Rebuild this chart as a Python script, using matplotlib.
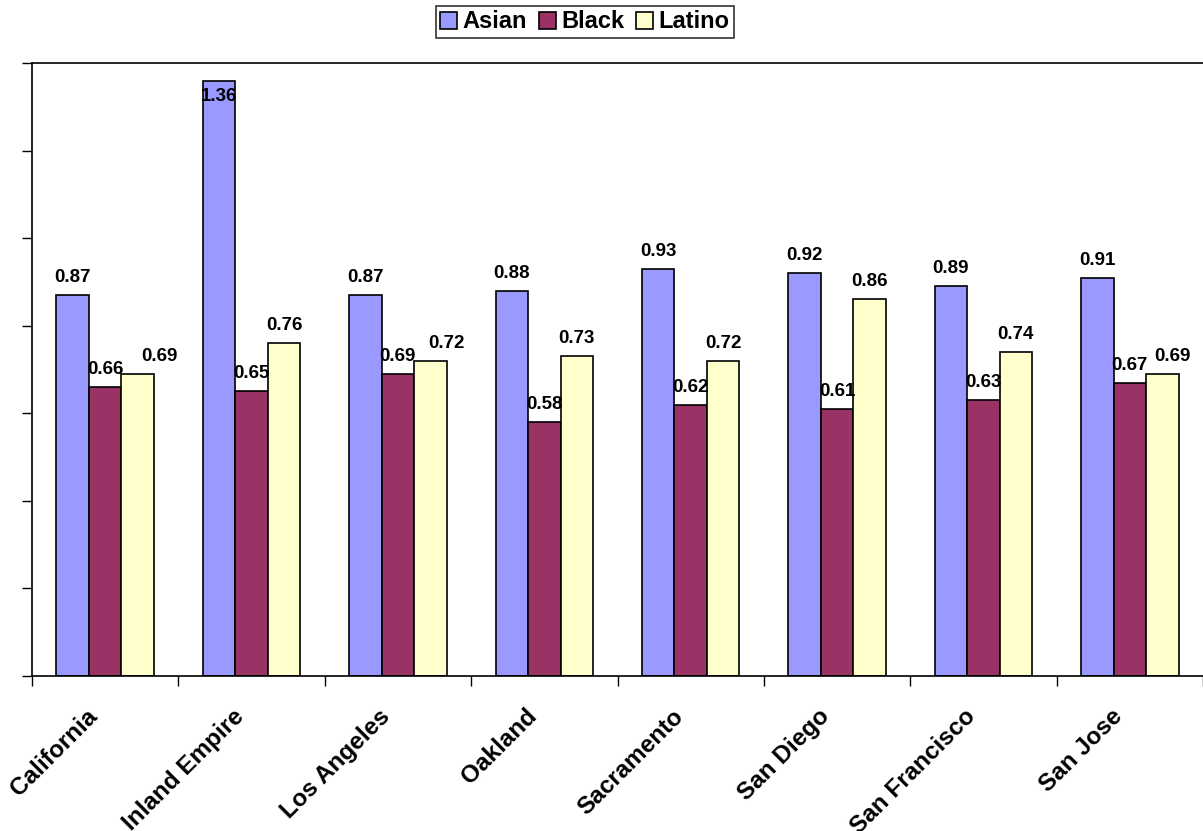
import numpy as np
import matplotlib.pyplot as plt
from matplotlib.patches import Patch

# Data
regions = ["California", "Inland Empire", "Los Angeles", "Oakland",
           "Sacramento", "San Diego", "San Francisco", "San Jose"]
asian = [0.87, 1.36, 0.87, 0.88, 0.93, 0.92, 0.89, 0.91]
black = [0.66, 0.65, 0.69, 0.58, 0.62, 0.61, 0.63, 0.67]
latino = [0.69, 0.76, 0.72, 0.73, 0.72, 0.86, 0.74, 0.69]

# Style
plt.rcParams["font.family"] = ["Liberation Sans", "DejaVu Sans"]
plt.rcParams["font.weight"] = "bold"

series = [("Asian", asian, "#9999FF"),
          ("Black", black, "#993366"),
          ("Latino", latino, "#FFFFCC")]

# sideways nudge (pixels) for the Latino labels that would run into the Black ones
latino_nudge = [22, 0, 16, 0, 0, 0, 0, 10]

fig = plt.figure(figsize=(12.03, 8.31), dpi=100)
ax = fig.add_axes([32 / 1203, 1 - 676 / 831, 1 - 32 / 1203, (676 - 63) / 831])

x = np.arange(len(regions))
width = 0.222
ymax = 1.4

for k, (name, vals, color) in enumerate(series):
    pos = x + (k - 1) * width
    ax.bar(pos, vals, width, color=color, edgecolor="black", linewidth=1.2,
           label=name, zorder=2)
    for i, (px, v) in enumerate(zip(pos, vals)):
        dx = latino_nudge[i] if name == "Latino" else 0
        if v + 0.05 > ymax:
            ax.annotate(f"{v:.2f}", (px, v), xytext=(dx, -7),
                        textcoords="offset pixels", ha="center", va="top",
                        fontsize=13.5, fontweight="bold", zorder=3)
        else:
            ax.annotate(f"{v:.2f}", (px, v), xytext=(dx, 9),
                        textcoords="offset pixels", ha="center", va="bottom",
                        fontsize=13.5, fontweight="bold", zorder=3)

ax.set_xlim(-0.5, len(regions) - 0.5)
ax.set_ylim(0, ymax)

# y ticks without labels
ax.set_yticks(np.arange(0, ymax + 0.01, 0.2))
ax.set_yticklabels([])
ax.tick_params(axis="y", direction="out", length=7, width=1)

# category labels at centers, tick marks at group boundaries
ax.set_xticks(x)
ax.set_xticklabels([])
ax.tick_params(axis="x", which="major", length=0)
ax.set_xticks(np.arange(-0.5, len(regions), 1.0), minor=True)
ax.tick_params(axis="x", which="minor", direction="out", length=7, width=1)

for xi, name in zip(x, regions):
    ax.annotate(name, (xi, 0), xytext=(-11, -37), textcoords="offset pixels",
                rotation=45, rotation_mode="anchor", ha="right", va="center",
                fontsize=17.5, fontweight="bold", annotation_clip=False)

for side in ["left", "top", "bottom"]:
    ax.spines[side].set_linewidth(1.2)
ax.spines["right"].set_visible(False)

handles = [Patch(facecolor=c, edgecolor="black", linewidth=1.2, label=n)
           for n, _, c in series]
leg = fig.legend(handles=handles, loc="center", bbox_to_anchor=(585 / 1203, 1 - 22 / 831),
                 ncol=3, frameon=True, fancybox=False, fontsize=17,
                 handlelength=0.7, handleheight=0.7, handletextpad=0.25,
                 columnspacing=0.5, borderpad=0.2, borderaxespad=0)
leg.get_frame().set_edgecolor("black")
leg.get_frame().set_linewidth(1.2)
for t in leg.get_texts():
    t.set_fontweight("bold")

fig.savefig("out.png", dpi=100)
